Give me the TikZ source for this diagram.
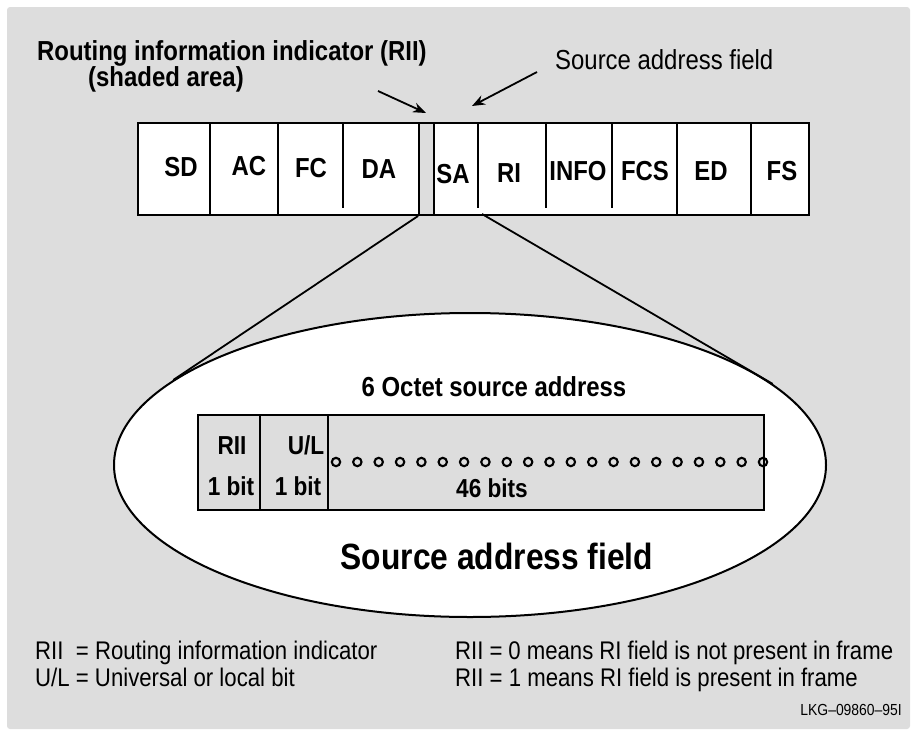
\documentclass[tikz,border=0pt]{standalone}
\usepackage{fontspec}
\setmainfont{Liberation Sans}[FakeStretch=0.87]
\usetikzlibrary{arrows.meta,shapes.geometric}
\definecolor{bggray}{HTML}{DDDDDD}
\begin{document}
\begin{tikzpicture}[x=1pt,y=-1pt,
  lbl/.style={font=\fontsize{27.5}{30}\selectfont\bfseries, inner sep=0pt, anchor=base},
  inlbl/.style={font=\fontsize{26}{28}\selectfont\bfseries, inner sep=0pt, anchor=base},
  txt/.style={font=\fontsize{25.5}{27}\selectfont, inner sep=0pt, anchor=base west},
  boxline/.style={line width=2pt},
  divider/.style={line width=2pt},
  conn/.style={line width=1.8pt},
  pointer/.style={line width=1.8pt, -{Stealth[length=13pt,width=10pt]}},
  bitdot/.style={line width=2.1pt}]
\useasboundingbox (0,0) rectangle (913,731);
\fill[bggray, rounded corners=3pt] (7,7) rectangle (910,729);

% top labels
\node[lbl, anchor=base west] (riititle) at (37,60) {Routing information indicator (RII)};
\node[lbl, anchor=base west] (shaded) at (88,86) {(shaded area)};
\node[txt, font=\fontsize{27.5}{30}\selectfont] (saftitle) at (555,69) {Source address field};

% frame
\node[draw, boxline, fill=white, minimum width=671pt, minimum height=92pt, inner sep=0pt, anchor=north west] (frame) at (137,122) {};
\node[draw, boxline, fill=bggray, minimum width=15pt, minimum height=92pt, inner sep=0pt, anchor=north west] (rii) at (418,122) {};
\draw[divider] (210,122) -- (210,214);
\draw[divider] (278,122) -- (278,214);
\draw[divider] (343,122) -- (343,208);
\draw[divider] (478,122) -- (478,208);
\draw[divider] (546,122) -- (546,208);
\draw[divider] (612,122) -- (612,208);
\draw[divider] (677,122) -- (677,214);
\draw[divider] (751,122) -- (751,214);

\node[lbl] (sd) at (181,176) {SD};
\node[lbl] (ac) at (249,175) {AC};
\node[lbl] (fc) at (311,177) {FC};
\node[lbl] (da) at (379,178) {DA};
\node[lbl] (sa) at (453,183) {SA};
\node[lbl] (ri) at (509,182) {RI};
\node[lbl] (info) at (578,180) {INFO};
\node[lbl] (fcs) at (645,180) {FCS};
\node[lbl] (ed) at (711,180) {ED};
\node[lbl] (fs) at (782,180) {FS};

% pointers
\coordinate (p1s) at (378,91);
\coordinate (p1e) at (426,113);
\coordinate (p2s) at (537,72);
\coordinate (p2e) at (472,106);
\draw[pointer] (p1s) -- (p1e);
\draw[pointer] (p2s) -- (p2e);

% ellipse
\node[ellipse, draw, line width=2pt, fill=white, minimum width=712pt, minimum height=304pt, inner sep=0pt] (ell) at (470,465) {};
\coordinate (sab) at (482,214);
\draw[conn] (rii.south west) -- (ell.164.2);
\draw[conn] (sab) -- (ell.15.9);

\node[lbl] (octet) at (494,396) {6 Octet source address};

% source address box
\node[draw, boxline, fill=bggray, minimum width=566pt, minimum height=95pt, inner sep=0pt, anchor=north west] (sabox) at (197,414) {};
\draw[divider] (260,414) -- (260,509);
\draw[divider] (328,414) -- (328,509);
\node[inlbl] (riil) at (232,454) {RII};
\node[inlbl] (riib) at (231,495) {1 bit};
\node[inlbl] (ull) at (306,454) {U/L};
\node[inlbl] (ulb) at (298,495) {1 bit};
\node[inlbl] (bits) at (492,497) {46 bits};
\foreach \i in {0,...,20}
  \draw[bitdot] (336+\i*21.35,462) circle[radius=4.2pt];

\node[lbl, font=\fontsize{36.5}{40}\selectfont\bfseries] (saf) at (497,569) {Source address field};

% legend
\node[txt] (leg1) at (35,659) {\rlap{RII}\phantom{U/L} = Routing information indicator};
\node[txt] (leg2) at (35,686) {U/L = Universal or local bit};
\node[txt] (leg3) at (455,659) {\spaceskip=6pt\relax RII = 0 means RI field is not present in frame};
\node[txt] (leg4) at (455,686) {RII = 1 means RI field is present in frame};
\node[font=\fontsize{16}{18}\selectfont, inner sep=0pt, anchor=base east] (lkg) at (902,715) {LKG–09860–95I};
\end{tikzpicture}
\end{document}
